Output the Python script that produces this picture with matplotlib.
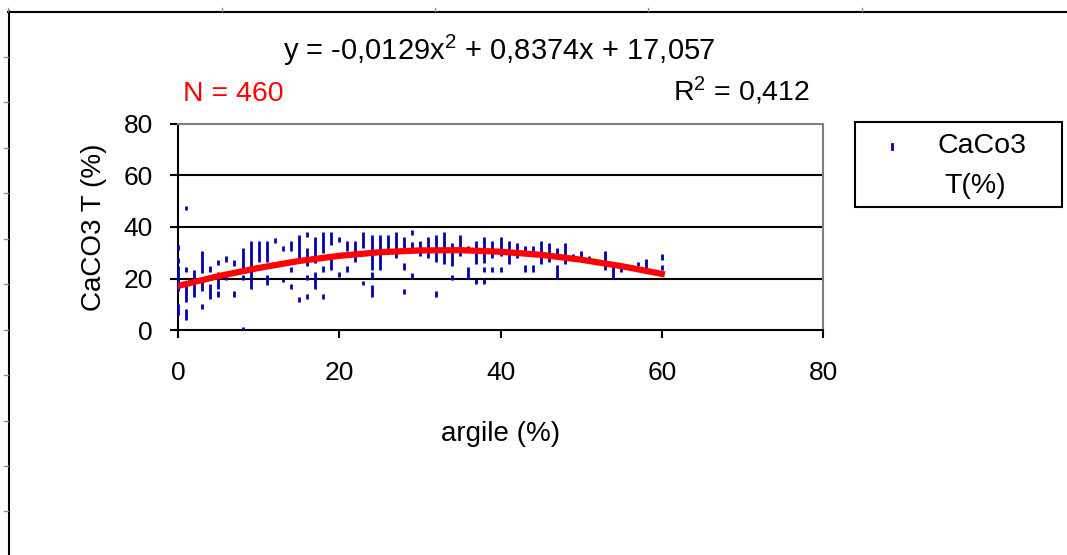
import matplotlib
matplotlib.use("Agg")
import matplotlib.pyplot as plt
from matplotlib.lines import Line2D
from matplotlib.patches import Rectangle

plt.rcParams['font.family'] = ['Liberation Sans', 'DejaVu Sans']
plt.rcParams['mathtext.fontset'] = 'custom'
plt.rcParams['mathtext.rm'] = 'Liberation Sans'
plt.rcParams['mathtext.default'] = 'regular'

# scatter: each sample is a short vertical dash, stacked dashes make segments
seg_x = [0, 0, 0, 0, 1, 1, 1, 1, 2, 3, 3, 3, 4, 4, 5, 5, 5, 6, 6, 7, 7,
         8, 8, 8, 9, 10, 11, 11, 12, 13, 13, 14, 14, 14, 15, 15,
         16, 16, 16, 16, 17, 17, 18, 18, 18, 19, 19, 20, 20, 21, 21, 22,
         23, 23, 24, 24, 24, 25, 26, 27, 28, 28, 28, 29, 29, 29, 30, 31,
         32, 32, 33, 34, 34, 35, 36, 36, 37, 37, 38, 38, 38, 39, 39,
         40, 40, 41, 42, 43, 43, 44, 44, 45, 46, 47, 47, 48, 49, 50, 51,
         53, 54, 55, 57, 58, 60, 60]
seg_lo = [31, 26, 15, 6, 46.5, 22.5, 11, 4, 13, 22, 15, 8, 22.5, 12, 25.3, 16, 13, 26.6, 19.5, 24.7, 13,
          22.7, 19.5, 0, 16, 26.6, 26.6, 17.5, 33.8, 30.5, 18.6, 30.5, 22.5, 16, 27.3, 11,
          36, 24.7, 19.5, 12, 26, 16, 30, 22.5, 12, 33, 23.4, 34, 20.4, 30.5, 22.5, 26.6,
          32, 17.3, 23.4, 20, 13, 23.4, 31, 28, 32, 23.4, 14, 37, 32, 20, 28.6, 28,
          26.6, 13, 25.6, 24.7, 19.5, 28.6, 31, 20, 25.6, 18, 26, 22.5, 18, 28, 22.5,
          28.6, 22.5, 25.6, 28, 30.5, 22.5, 30.5, 22.5, 25.6, 26.6, 28, 20, 25.6, 28, 28, 26.6,
          23.4, 20, 22.5, 24.7, 23.4, 27.3, 23.4]
seg_hi = [33, 28, 25, 10, 48, 24.3, 19, 8, 23.4, 30.5, 20, 10, 24.7, 18, 27.3, 22.5, 15, 28.6, 22.7, 27.3, 15,
          31.8, 21.4, 1.3, 34.4, 34.4, 34.4, 21.4, 35.7, 32.5, 20, 34.4, 24.3, 18, 37, 13,
          38, 31.8, 21.4, 14, 36, 22.5, 38, 24.7, 14, 38, 28.6, 36, 22.5, 34.7, 24.7, 34.7,
          38, 19, 37, 22.5, 17.3, 37, 37, 38, 36, 26, 16, 39, 34, 22, 34.7, 36,
          37, 15, 38, 33.8, 21.4, 37, 32.7, 24.3, 34.7, 20, 36, 24.3, 20, 34.7, 24.3,
          36, 24.3, 34.7, 33.8, 32.8, 25.3, 32.8, 25.3, 34.7, 33.8, 31.8, 25.3, 33.8, 29.5, 30.5, 28.6,
          30.5, 24.7, 24.3, 26.6, 27.5, 29.5, 25.3]

# polynomial trend line, read at steps of 5 % argile
trend_x = [0, 5, 10, 15, 20, 25, 30, 35, 40, 45, 50, 55, 60]
trend_y = [17.1, 20.9, 24.1, 26.8, 28.8, 30.2, 30.9, 31.0, 30.4, 29.2, 27.3, 24.8, 21.8]

x_ticks = [0, 20, 40, 60, 80]
y_ticks = [0, 20, 40, 60, 80]

W, H = 1067, 555


def fx(px):
    return px / W


def fy(py):
    return 1 - py / H


fig = plt.figure(figsize=(W / 100, H / 100), dpi=100, facecolor='white')
ax = fig.add_axes([fx(178), fy(330), fx(823) - fx(178), fy(124) - fy(330)])

ax.vlines(seg_x, seg_lo, seg_hi, colors='#0000b0', linewidth=2.0,
          zorder=3, clip_on=False)
ax.plot(trend_x, trend_y, color='#ff0000', linewidth=4.5, zorder=4)

ax.set_xlim(0, 80)
ax.set_ylim(0, 80)
ax.set_xticks(x_ticks)
ax.set_yticks(y_ticks)
for v in y_ticks[1:-1]:
    ax.axhline(v, color='black', linewidth=1.5, zorder=1)

for side in ('left', 'bottom'):
    ax.spines[side].set_linewidth(1.5)
    ax.spines[side].set_color('black')
for side in ('top', 'right'):
    ax.spines[side].set_linewidth(1.5)
    ax.spines[side].set_color('#808080')

ax.tick_params(axis='both', direction='out', length=6, width=1.5, labelsize=19)
ax.tick_params(axis='x', pad=16)
ax.tick_params(axis='y', pad=12)

ax.set_xlabel('argile (%)', fontsize=20, labelpad=26)
ax.set_ylabel('CaCO3 T (%)', fontsize=20, labelpad=12)

fig.text(fx(499), fy(60), 'y = -0,0129x$^{2}$ + 0,8374x + 17,057',
         ha='center', va='baseline', fontsize=21)
fig.text(fx(183), fy(101), 'N = 460', ha='left', va='baseline',
         fontsize=20.5, color='#ff0000')
fig.text(fx(810), fy(101), 'R$^{2}$ = 0,412', ha='right', va='baseline', fontsize=20.5)

# legend box
fig.patches.append(Rectangle((fx(855), fy(207)), fx(1062) - fx(855), fy(122) - fy(207),
                             transform=fig.transFigure, fill=False,
                             edgecolor='black', linewidth=1.5))
fig.add_artist(Line2D([fx(892), fx(892)], [fy(144), fy(149)], color='#0000b0',
                      linewidth=2.0, transform=fig.transFigure))
fig.text(fx(982), fy(146), 'CaCo3', ha='center', va='center', fontsize=20.5)
fig.text(fx(975), fy(186), 'T(%)', ha='center', va='center', fontsize=20.5)

# outer sheet frame with its small grid marks
fig.add_artist(Line2D([fx(8.5), fx(8.5)], [fy(11), 0], color='black',
                      linewidth=1.5, transform=fig.transFigure))
fig.add_artist(Line2D([fx(8), 1], [fy(11.5), fy(11.5)], color='black',
                      linewidth=1.5, transform=fig.transFigure))
for py in [57, 102, 148, 193, 239, 284, 330, 375, 421, 466, 511]:
    fig.add_artist(Line2D([fx(4), fx(8)], [fy(py), fy(py)], color='#909090',
                          linewidth=1, transform=fig.transFigure))
for px in [8, 222, 435, 648, 862]:
    fig.add_artist(Line2D([fx(px), fx(px)], [fy(8), fy(11)], color='#909090',
                          linewidth=1, transform=fig.transFigure))

fig.savefig('out.png', dpi=100, facecolor='white')
